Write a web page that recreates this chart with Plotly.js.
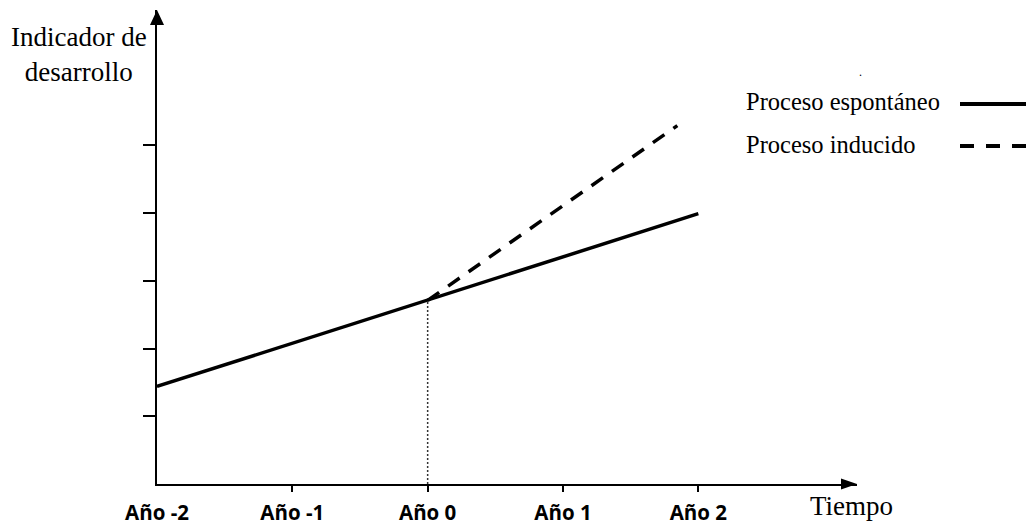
<!DOCTYPE html>
<html>
<head>
<meta charset="utf-8">
<script src="https://cdn.plot.ly/plotly-3.0.1.min.js"></script>
<style>html,body{margin:0;padding:0;background:#fff;}#chart{width:1026px;height:525px;}</style>
</head>
<body>
<div id="chart"></div>
<script>
// ---- data ----
const yearValues = [-2, -1, 0, 1, 2];
const yearLabels = ['Año -2', 'Año -1', 'Año 0', 'Año 1', 'Año 2'];
const tickYears = [-1, 0, 1, 2];
const indicatorTicks = [1, 2, 3, 4, 5];

const seriesNames = ['Proceso espontáneo', 'Proceso inducido'];
const spontaneousX = [-2, 0, 2];
const spontaneousY = [1.44, 2.71, 3.99];
const inducedX = [0, 1.845];
const inducedY = [2.71, 5.29];
const referenceX = [0, 0];
const referenceY = [0, 2.71];

const yTitle = 'Indicador de<br>desarrollo';
const xTitle = 'Tiempo';

// ---- layout helpers (pixel -> paper) ----
const L = 157, R = 169, T = 10, B = 41, W = 1026, H = 525;
const PW = W - L - R, PH = H - T - B;
const px = p => (p - L) / PW;
const py = p => (H - B - p) / PH;
const xRange = [-2, -2 + PW / 135.33];
const yRange = [0, PH / 67.75];

const serif = 'Liberation Serif, Times New Roman, serif';

const traces = [
  {x: referenceX, y: referenceY, mode: 'lines', xaxis: 'x', yaxis: 'y',
   line: {color: '#333', width: 1.5, dash: '2px,2px'}, hoverinfo: 'skip', showlegend: false},
  {x: spontaneousX, y: spontaneousY, mode: 'lines', name: seriesNames[0],
   line: {color: '#000', width: 3.5}, showlegend: false},
  {x: inducedX, y: inducedY, mode: 'lines', name: seriesNames[1],
   line: {color: '#000', width: 3.5, dash: '14px,11px'}, showlegend: false}
];

const arrowShapes = [
  {type: 'path', xref: 'paper', yref: 'paper', fillcolor: '#000', line: {width: 0},
   path: `M ${px(857)},${py(484)} L ${px(841)},${py(478.5)} L ${px(841)},${py(489.5)} Z`},
  {type: 'path', xref: 'paper', yref: 'paper', fillcolor: '#000', line: {width: 0},
   path: `M ${px(157)},${py(10)} L ${px(150)},${py(25)} L ${px(164)},${py(25)} Z`}
];
const legendRows = [104, 146];
const legendShapes = seriesNames.map((n, i) => ({
  type: 'line', xref: 'paper', yref: 'paper',
  x0: px(960), x1: px(1030), y0: py(legendRows[i]), y1: py(legendRows[i]),
  line: {color: '#000', width: 4, dash: i === 0 ? 'solid' : '14px,12px'}
}));
const legendTexts = seriesNames.map((n, i) => ({
  text: n, xref: 'paper', yref: 'paper', x: px(744), y: py(legendRows[i] - 2),
  xanchor: 'left', yanchor: 'middle', showarrow: false,
  font: {family: serif, size: 24.5, color: '#000'}
}));

const layout = {
  width: W, height: H,
  margin: {l: L, r: R, t: T, b: B, pad: 0},
  paper_bgcolor: '#fff', plot_bgcolor: '#fff',
  showlegend: false,
  xaxis: {
    range: xRange, showgrid: false, zeroline: false,
    showline: true, linecolor: '#000', linewidth: 2,
    tickmode: 'array', tickvals: yearValues, ticktext: yearLabels,
    ticks: '', ticklabelstandoff: 9,
    tickfont: {family: 'Open Sans, Noto Sans, sans-serif', size: 20.5, color: '#000', weight: 'bold'}
  },
  xaxis2: {
    overlaying: 'x', anchor: 'y', side: 'bottom', range: xRange,
    showgrid: false, zeroline: false, showline: false,
    tickmode: 'array', tickvals: tickYears, ticks: 'outside', ticklen: 7, tickwidth: 2,
    tickcolor: '#000', showticklabels: false
  },
  yaxis: {
    range: yRange, showgrid: false, zeroline: false,
    showline: true, linecolor: '#000', linewidth: 2,
    tickmode: 'array', tickvals: indicatorTicks, ticks: 'outside', ticklen: 12, tickwidth: 2,
    tickcolor: '#000', showticklabels: false
  },
  shapes: arrowShapes.concat(legendShapes),
  annotations: [
    {text: yTitle, xref: 'paper', yref: 'paper', x: px(79), y: py(55), xanchor: 'center', yanchor: 'middle',
     showarrow: false, align: 'center', font: {family: serif, size: 27, color: '#000'}},
    {text: xTitle, xref: 'paper', yref: 'paper', x: px(851), y: py(506), xanchor: 'center', yanchor: 'middle',
     showarrow: false, font: {family: serif, size: 27, color: '#000'}},
    {text: '.', xref: 'paper', yref: 'paper', x: px(860), y: py(72), xanchor: 'center', yanchor: 'middle',
     showarrow: false, font: {family: serif, size: 12, color: '#000'}}
  ].concat(legendTexts)
};

// dummy trace so xaxis2 is drawn
traces.push({x: [], y: [], xaxis: 'x2', yaxis: 'y', mode: 'lines', showlegend: false, hoverinfo: 'skip'});

Plotly.newPlot('chart', traces, layout, {displayModeBar: false, staticPlot: true});
</script>
</body>
</html>
